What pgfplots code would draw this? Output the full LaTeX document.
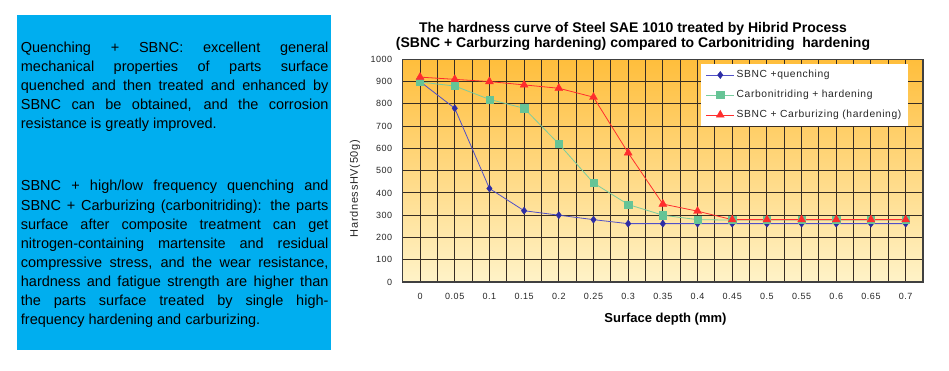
\documentclass[border=0pt]{standalone}
\usepackage{fontspec}
\setmainfont{Liberation Sans}
\newfontfamily\lsfont[LetterSpace=6]{Liberation Sans}
\usepackage{pgfplots}
\pgfplotsset{compat=1.18}
\definecolor{boxblue}{RGB}{0,174,239}
\definecolor{bgtop}{RGB}{255,190,60}
\definecolor{bgbot}{RGB}{255,243,200}
\definecolor{gridc}{RGB}{55,45,35}
\definecolor{sblue}{RGB}{45,45,165}
\definecolor{sbluel}{RGB}{80,80,200}
\definecolor{sgreen}{RGB}{102,196,150}
\definecolor{sgreenl}{RGB}{120,205,160}
\definecolor{sred}{RGB}{255,45,45}
\begin{document}
\begin{tikzpicture}[x=1pt,y=1pt]
\useasboundingbox (0,0) rectangle (949,371);
\fill[boxblue] (17,21) rectangle (331,356);
\node[anchor=base west, inner sep=0pt] at (20.7,318.7) {\parbox[t]{307.6pt}{\fontsize{14.5}{19.1}\selectfont\tolerance=10000\hyphenpenalty=10000
Quenching + SBNC: excellent general\linebreak
mechanical properties of parts surface\linebreak
quenched and then treated and enhanced by\linebreak
SBNC can be obtained, and the corrosion\linebreak
resistance is greatly improved.\par}};
\node[anchor=base west, inner sep=0pt] at (20.7,180) {\parbox[t]{307.6pt}{\fontsize{14.5}{19.1}\selectfont\tolerance=10000\hyphenpenalty=10000
SBNC + high/low frequency quenching and\linebreak
SBNC + Carburizing (carbonitriding): the parts\linebreak
surface after composite treatment can get\linebreak
nitrogen-containing martensite and residual\linebreak
compressive stress, and the wear resistance,\linebreak
hardness and fatigue strength are higher than\linebreak
the parts surface treated by single high-\linebreak{}frequency hardening and carburizing.\par}};
\begin{axis}[
  at={(402.7pt,89pt)}, anchor=south west,
  scale only axis, width=520.3pt, height=222.7pt,
  xmin=-0.025, xmax=0.725, ymin=0, ymax=1000,
  xtick={0,0.05,0.1,0.15,0.2,0.25,0.3,0.35,0.4,0.45,0.5,0.55,0.6,0.65,0.7},
  xticklabels={0,0.05,0.1,0.15,0.2,0.25,0.3,0.35,0.4,0.45,0.5,0.55,0.6,0.65,0.7},
  minor xtick={0.025,0.075,0.125,0.175,0.225,0.275,0.325,0.375,0.425,0.475,0.525,0.575,0.625,0.675},
  ytick={0,100,200,300,400,500,600,700,800,900,1000},
  yticklabels={0,100,200,300,400,500,600,700,800,900,1000},
  /pgf/number format/assume math mode=true,
  grid=both,
  major tick length=0pt, minor tick length=0pt,
  major grid style={draw=gridc, line width=1pt},
  minor grid style={draw=gridc, line width=1pt},
  axis line style={draw=black!75, line width=1.3pt},
  axis background/.style={top color=bgtop, bottom color=bgbot},
  tick label style={font=\lsfont\fontsize{9}{10}\selectfont, text=black!85},
  xticklabel style={anchor=base, yshift=-18pt},
  yticklabel style={xshift=-7pt},
  xlabel={Surface depth (mm)},
  xlabel style={at={(axis description cs:0.505,-0.181)}, anchor=base, font=\bfseries\fontsize{13}{14}\selectfont},
  ylabel={HardnessHV(50g)},
  ylabel style={at={(axis description cs:-0.0917,0.42)}, anchor=center, rotate=0, font=\lsfont\fontsize{11}{12}\selectfont, text=black!85},
  legend style={at={(0.5727,0.982)}, anchor=north west, fill=white, draw=none,
    font=\lsfont\fontsize{10.3}{12}\selectfont, text=black!85, row sep=7pt,
    inner xsep=5pt, inner ysep=5pt},
  legend cell align=left,
  legend image code/.code={\draw[mark repeat=2,mark phase=2,#1] plot coordinates {(0pt,0pt) (14pt,0pt) (28pt,0pt)};},
]
\addplot[draw=sbluel, line width=0.8pt, mark=diamond*, mark size=3.6pt, mark options={draw=sblue, fill=sblue, line width=0.4pt}]
coordinates {(0,900) (0.05,780) (0.1,420) (0.15,320) (0.2,300) (0.25,280) (0.3,262) (0.35,262) (0.4,262) (0.45,262) (0.5,262) (0.55,262) (0.6,262) (0.65,262) (0.7,262)};
\addlegendentry{SBNC +quenching}
\addplot[draw=sgreenl, line width=0.8pt, mark=square*, mark size=3.6pt, mark options={draw=sgreen, fill=sgreen, line width=0.4pt}]
coordinates {(0,898) (0.05,880) (0.1,820) (0.15,780) (0.2,620) (0.25,445) (0.3,348) (0.35,300) (0.4,280) (0.45,278) (0.5,278) (0.55,278) (0.6,278) (0.65,278) (0.7,278)};
\addlegendentry{Carbonitriding + hardening}
\addplot[draw=sred, line width=0.8pt, mark=triangle*, mark size=4.6pt, mark options={draw=sred, fill=sred, line width=0.4pt}]
coordinates {(0,920) (0.05,910) (0.1,900) (0.15,885) (0.2,870) (0.25,830) (0.3,580) (0.35,350) (0.4,318) (0.45,280) (0.5,280) (0.55,280) (0.6,280) (0.65,280) (0.7,280)};
\addlegendentry{SBNC + Carburizing (hardening)}
\end{axis}
\node[anchor=base, inner sep=0pt, font=\bfseries\fontsize{14}{15}\selectfont] at (633,338.5) {The hardness curve of Steel SAE 1010 treated by Hibrid Process};
\node[anchor=base, inner sep=0pt, font=\bfseries\fontsize{14}{15}\selectfont] at (633,323.5) {(SBNC + Carburzing hardening) compared to Carbonitriding\ \ hardening};
\end{tikzpicture}
\end{document}
